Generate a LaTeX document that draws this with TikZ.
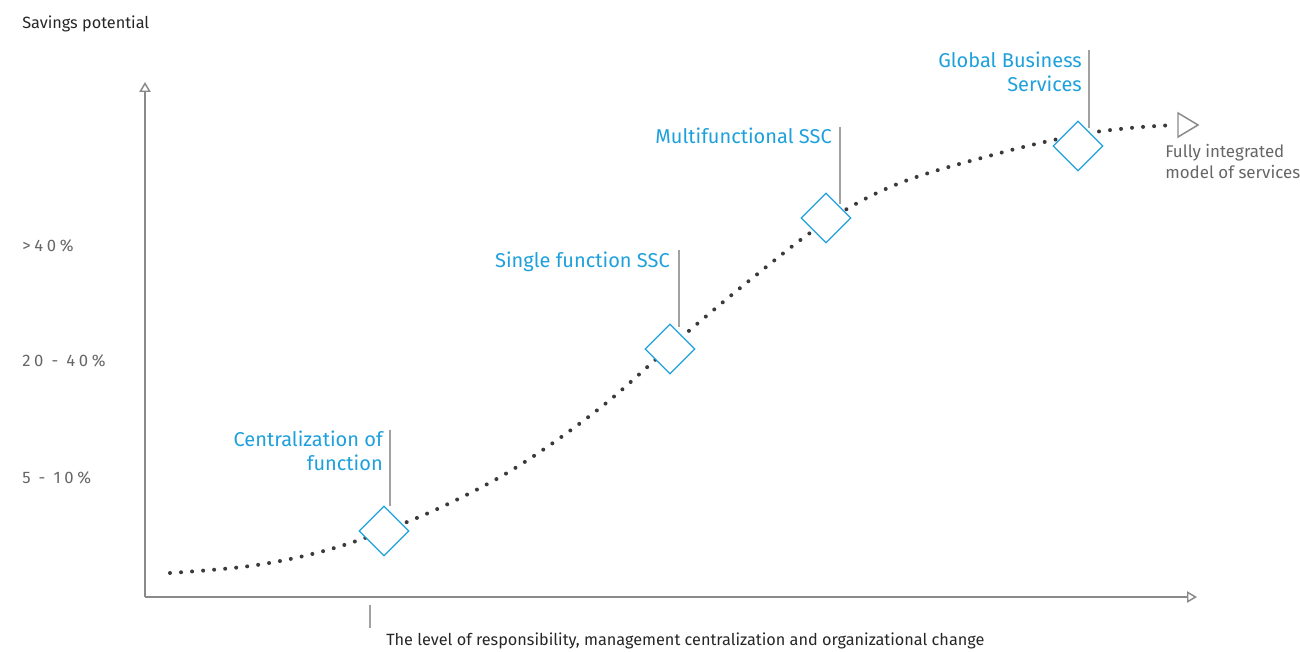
\documentclass[tikz,border=0pt]{standalone}
\usepackage{fontspec}
\setmainfont{Fira Sans}
\usetikzlibrary{shapes.geometric,arrows.meta}
\definecolor{lblue}{HTML}{1EA0DC}
\definecolor{axisgray}{HTML}{8A8A8A}
\definecolor{txtgray}{HTML}{666666}
\definecolor{dotgray}{HTML}{3A3A3A}
\begin{document}
\begin{tikzpicture}[x=0.75pt,y=-0.75pt,
  axis/.style={draw=axisgray,line width=1.1pt},
  leader/.style={draw=axisgray!80,line width=1.1pt},
  stage/.style={diamond,draw=lblue,fill=white,line width=1pt,minimum width=37.5pt,minimum height=37.5pt,inner sep=0pt},
  bluelabel/.style={text=lblue,font=\fontsize{15}{18}\selectfont,align=right,inner sep=0pt},
  graylabel/.style={text=txtgray,font=\fontsize{12.7}{16}\selectfont,inner sep=0pt},
  pct/.style={text=txtgray,font=\fontsize{12.5}{14}\selectfont\addfontfeature{LetterSpace=22},anchor=west,inner sep=0pt},
  darklabel/.style={text=black!85,font=\fontsize{12.2}{15}\selectfont,inner sep=0pt}]
\useasboundingbox (0,0) rectangle (1300,652);
% axes
\coordinate (O) at (145,597);
\coordinate (ytop) at (145,82);
\coordinate (xend) at (1197,597);
\draw[axis,-{Triangle[open,length=7.5pt,width=8.5pt]}] (O) -- (ytop);
\draw[axis,-{Triangle[open,length=7.5pt,width=8.5pt]}] (O) -- (xend);
\coordinate (tickA) at (370,605);
\coordinate (tickB) at (370,628);
\draw[leader] (tickA) -- (tickB);
% texts
\node[darklabel,anchor=west] (ylab) at (22,24) {Savings potential};
\node[darklabel,anchor=west] (xlab) at (386,641) {The level of responsibility, management centralization and organizational change};
\node[pct] (p1) at (22,246) {>40\%};
\node[pct] (p2) at (22,361) {20 - 40\%};
\node[pct] (p3) at (22,478) {5 - 10\%};
% curve
\draw[dotgray,line width=3pt,line cap=round,dash pattern=on 0pt off 8.3pt]
  plot[smooth,tension=0.6] coordinates {(170,573) (250,566) (320,552) (384,531) (450,503) (520,465) (600,408) (670,347) (750,280) (826,222) (900,183) (1000,153) (1078,135) (1130,128) (1176,125)};
\draw[draw=axisgray,line width=1.1pt,fill=white] (1178,113) -- (1198,125) -- (1178,137) -- cycle;
\node[graylabel,anchor=north west,align=left] (fully) at (1165,144) {Fully integrated\\model of services};
% stages
\node[stage] (s1) at (384,531) {};
\node[stage] (s2) at (670,349) {};
\node[stage] (s3) at (826,218) {};
\node[stage] (s4) at (1078,146) {};
\coordinate (l1) at (390,430);
\coordinate (l2) at (679,250);
\coordinate (l3) at (840,127);
\coordinate (l4) at (1089,50);
\draw[leader] (l1) -- (390,506);
\draw[leader] (l2) -- (679,327);
\draw[leader] (l3) -- (840,204);
\draw[leader] (l4) -- (1089,128);
\node[bluelabel,anchor=north east] (t1) at (383,431) {Centralization of\\function};
\node[bluelabel,anchor=north east] (t2) at (670,252) {Single function SSC};
\node[bluelabel,anchor=north east] (t3) at (832,128) {Multifunctional SSC};
\node[bluelabel,anchor=north east] (t4) at (1082,52) {Global Business\\Services};
\end{tikzpicture}
\end{document}
